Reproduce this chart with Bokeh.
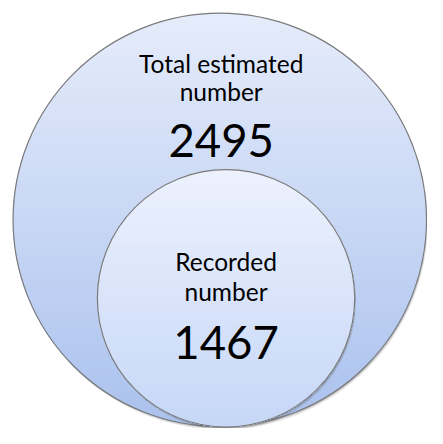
import numpy as np
from bokeh.plotting import figure
from bokeh.models import Range1d
from bokeh.core.properties import value
from bokeh.embed import file_html
from bokeh.resources import INLINE

# ---- data ----
labels_outer = ["Total estimated", "number"]
labels_inner = ["Recorded", "number"]
counts = [2495, 1467]

# circle geometry (pixel-like units of the reference image)
centers_x = [227.5, 234.0]
centers_y = [227.5, 309.0]
radii = [214.5, 133.5]
top_colors = [(0xe5, 0xec, 0xfb), (0xec, 0xf1, 0xfd)]
bottom_colors = [(0xab, 0xc2, 0xee), (0xc6, 0xd7, 0xf7)]

p = figure(width=427, height=428, output_backend="svg", toolbar_location=None,
           x_range=Range1d(0, 443), y_range=Range1d(444, 0),
           min_border=0, background_fill_color="white", border_fill_color="white")
p.axis.visible = False
p.grid.visible = False
p.outline_line_color = None


def hexc(c):
    return "#%02x%02x%02x" % tuple(int(round(v)) for v in c)


def segment(cx, cy, r, y0, n=90):
    # part of the circle lying below y0 on screen (y axis inverted)
    a0 = np.arcsin(np.clip((y0 - cy) / r, -1, 1))
    t = np.linspace(a0, np.pi - a0, n)
    return list(cx + r * np.cos(t)), list(cy + r * np.sin(t))


for i in range(2):
    cx, cy, r = centers_x[i], centers_y[i], radii[i]
    # soft drop shadow
    for dx, dy, a in [(1.5, 3.0, 0.10), (1.0, 2.0, 0.15), (0.5, 1.0, 0.2)]:
        p.circle(x=[cx + dx], y=[cy + dy], radius=r, fill_color="#404040",
                 fill_alpha=a, line_color=None)
    # vertical gradient by stacked lower segments
    N = 70
    xs_all, ys_all, cols = [], [], []
    for k in range(N):
        y0 = cy - r + 2 * r * k / N
        f = k / (N - 1)
        c = [top_colors[i][j] + (bottom_colors[i][j] - top_colors[i][j]) * f for j in range(3)]
        xs, ys = segment(cx, cy, r, y0)
        xs_all.append(xs)
        ys_all.append(ys)
        cols.append(hexc(c))
    p.patches(xs=xs_all, ys=ys_all, fill_color=cols, line_color=None)
    p.circle(x=[cx], y=[cy], radius=r, fill_color=None,
             line_color="#7a7a7a", line_width=1.2)

font = value("Lato")
small = "24.5px"
big = "45.5px"
# outer labels
p.text(x=[229, 229], y=[65, 94], text=labels_outer, text_font=font,
       text_font_size=small, text_align="center", text_baseline="alphabetic",
       text_color="#000000")
p.text(x=[229], y=[145], text=[str(counts[0])], text_font=font,
       text_font_size=big, text_align="center", text_baseline="alphabetic",
       text_color="#000000")
# inner labels
p.text(x=[234, 234], y=[271, 302], text=labels_inner, text_font=font,
       text_font_size=small, text_align="center", text_baseline="alphabetic",
       text_color="#000000")
p.text(x=[234], y=[355], text=[str(counts[1])], text_font=font,
       text_font_size=big, text_align="center", text_baseline="alphabetic",
       text_color="#000000")

open("out.html", "w").write(file_html(p, INLINE))
